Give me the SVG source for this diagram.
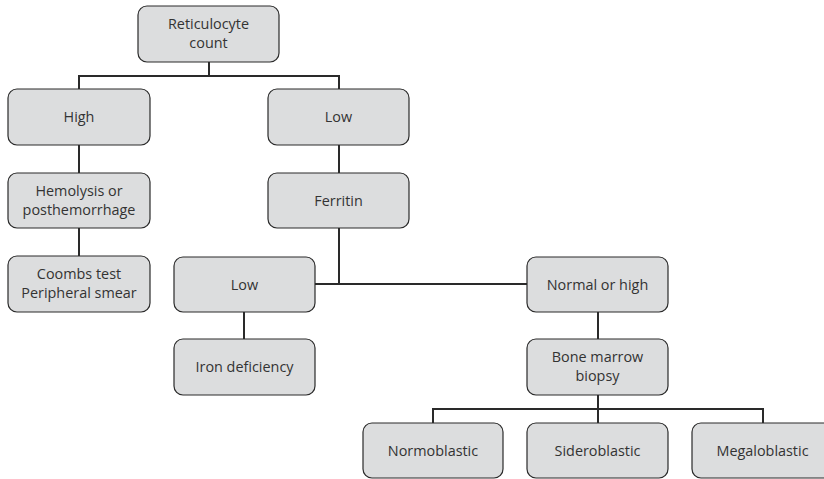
<svg xmlns="http://www.w3.org/2000/svg" width="824" height="479" viewBox="0 0 824 479">
<style>
.box{fill:#dcddde;stroke:#2a2a2a;stroke-width:1.2}
.t{font-family:"Open Sans","Noto Sans",sans-serif;font-size:14.4px;fill:#333;text-anchor:middle}
.c{fill:none;stroke:#2a2a2a;stroke-width:2}
</style>
<rect width="824" height="479" fill="#fff"/>
<g id="connectors">
<path class="c" d="M209 62V76M79 76H339M79 75V89M339 75V89"/>
<path class="c" d="M79 145V173"/>
<path class="c" d="M339 145V173"/>
<path class="c" d="M79 228V256"/>
<path class="c" d="M339 228V284M315 284H527"/>
<path class="c" d="M244 312V339"/>
<path class="c" d="M598 312V339"/>
<path class="c" d="M598 395V409M433 409H763M433 408V423M598 409V423M763 408V423"/>
</g>
<g id="reticulocyte"><rect class="box" x="138" y="6" width="141" height="56" rx="9"/><text class="t" x="208.5" y="29">Reticulocyte</text><text class="t" x="208.5" y="48">count</text></g>
<g id="high"><rect class="box" x="8" y="89" width="142" height="56" rx="9"/><text class="t" x="79" y="122">High</text></g>
<g id="low1"><rect class="box" x="268" y="89" width="141" height="56" rx="9"/><text class="t" x="338.5" y="122">Low</text></g>
<g id="hemolysis"><rect class="box" x="8" y="173" width="142" height="55" rx="9"/><text class="t" x="79" y="196">Hemolysis or</text><text class="t" x="79" y="215">posthemorrhage</text></g>
<g id="ferritin"><rect class="box" x="268" y="173" width="141" height="55" rx="9"/><text class="t" x="338.5" y="205.5">Ferritin</text></g>
<g id="coombs"><rect class="box" x="8" y="256" width="142" height="56" rx="9"/><text class="t" x="79" y="279">Coombs test</text><text class="t" x="79" y="298">Peripheral smear</text></g>
<g id="low2"><rect class="box" x="174" y="257" width="141" height="55" rx="9"/><text class="t" x="244.5" y="289.5">Low</text></g>
<g id="normal"><rect class="box" x="527" y="257" width="141" height="55" rx="9"/><text class="t" x="597.5" y="289.5">Normal or high</text></g>
<g id="iron"><rect class="box" x="174" y="339" width="141" height="56" rx="9"/><text class="t" x="244.5" y="372">Iron deficiency</text></g>
<g id="bone"><rect class="box" x="527" y="339" width="141" height="56" rx="9"/><text class="t" x="597.5" y="362">Bone marrow</text><text class="t" x="597.5" y="381">biopsy</text></g>
<g id="normoblastic"><rect class="box" x="363" y="423" width="140" height="55" rx="9"/><text class="t" x="433" y="455.5">Normoblastic</text></g>
<g id="sideroblastic"><rect class="box" x="527" y="423" width="141" height="55" rx="9"/><text class="t" x="597.5" y="455.5">Sideroblastic</text></g>
<g id="megaloblastic"><rect class="box" x="692" y="423" width="141" height="55" rx="9"/><text class="t" x="762.5" y="455.5">Megaloblastic</text></g>
</svg>
